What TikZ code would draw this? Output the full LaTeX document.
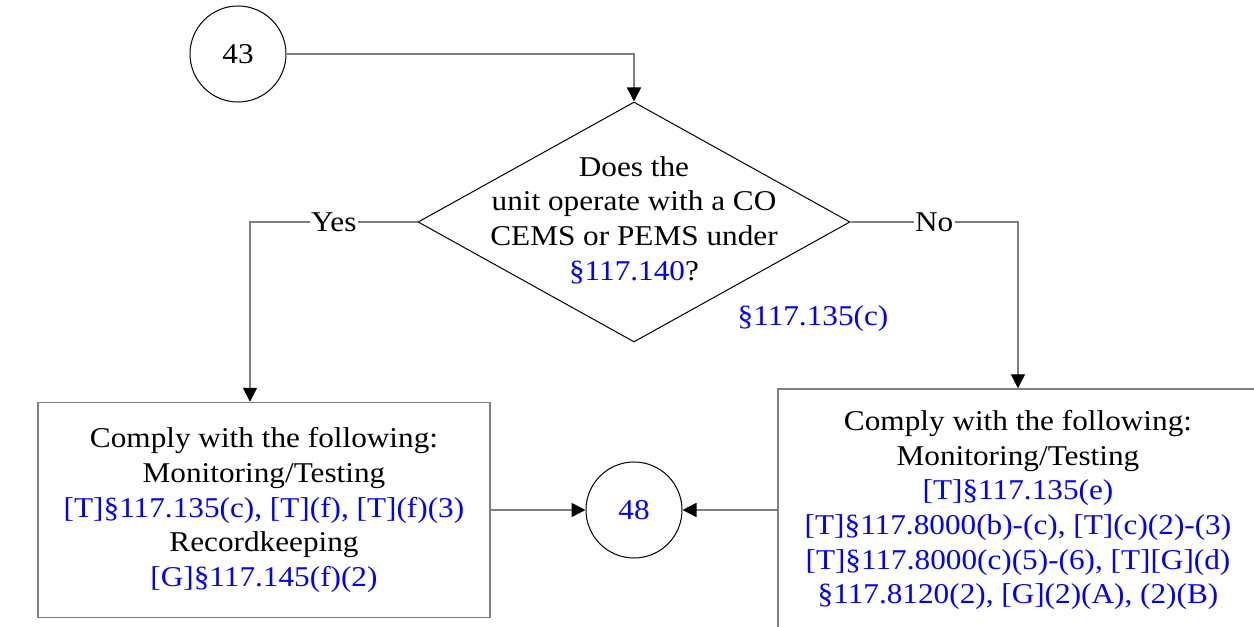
\documentclass[tikz,border=0pt]{standalone}
\usepackage{fontspec}
\setmainfont[FakeStretch=1.09]{Liberation Serif}
\usetikzlibrary{arrows.meta,shapes.geometric,calc}

\definecolor{lineGray}{RGB}{127,127,127}
\definecolor{refBlue}{RGB}{0,0,255}

\begin{document}
\begin{tikzpicture}[x=0.75pt,y=0.75pt,yscale=-1,xscale=1,
	every node/.style={font=\fontsize{21.5}{26}\selectfont},
	conn/.style={draw=lineGray, line width=1.1pt, -{Triangle[length=10.5pt,width=10.5pt,color=black]}},
	offpage/.style={circle, draw, line width=0.75pt, minimum size=72pt, inner sep=0pt},
	decision/.style={diamond, draw, line width=0.75pt, minimum width=324pt, minimum height=180pt, inner sep=0pt},
	stepbox/.style={rectangle, draw=lineGray, line width=1.1pt, align=center},
	branch/.style={fill=white, inner sep=1pt},
	ref/.style={text=refBlue}]
			\useasboundingbox (0,0) rectangle (1254,627);

			%Shape: Circle [id:offpage43]
			\node [offpage] (c43) at (238,54) {43};
			%Shape: Diamond [id:question]
			\node [decision] (q) at (634,222) {};
			% Text Node
			\node [align=center] (qtext) at (634,220) {Does the\\unit operate with a CO\\CEMS or PEMS under\\\textcolor{refBlue}{§117.140}?};
			% Text Node
			\node [ref] (qref) at (813,319) {§117.135(c)};

			%Shape: Rectangle [id:yesbox]
			\node [stepbox, minimum width=339pt, minimum height=161.25pt] (lbox) at (264,510) {Comply with the following:\\Monitoring/Testing\\\textcolor{refBlue}{[T]§117.135(c), [T](f), [T](f)(3)}\\Recordkeeping\\\textcolor{refBlue}{[G]§117.145(f)(2)}};
			%Shape: Rectangle [id:nobox]
			\node [stepbox, minimum width=360pt, minimum height=181.5pt] (rbox) at (1018,510) {Comply with the following:\\Monitoring/Testing\\\textcolor{refBlue}{[T]§117.135(e)}\\\textcolor{refBlue}{[T]§117.8000(b)-(c), [T](c)(2)-(3)}\\\textcolor{refBlue}{[T]§117.8000(c)(5)-(6), [T][G](d)}\\\textcolor{refBlue}{§117.8120(2), [G](2)(A), (2)(B)}};
			%Shape: Circle [id:offpage48]
			\node [offpage, text=refBlue] (c48) at (634,510) {48};

			%Straight Lines [id:to-question]
			\draw [conn] (c43.east) -| (q.north);
			%Straight Lines [id:yes]
			\coordinate (yesbend) at (250,222);
			\draw [conn] (q.west) -- node [branch] {Yes} (yesbend) -- (yesbend |- lbox.north);
			%Straight Lines [id:no]
			\draw [conn] (q.east) -| node [branch, pos=0.25] {No} (rbox.north);
			%Straight Lines [id:to48]
			\draw [conn] (lbox.east) -- (c48.west);
			\draw [conn] (rbox.west) -- (c48.east);

\end{tikzpicture}
\end{document}
